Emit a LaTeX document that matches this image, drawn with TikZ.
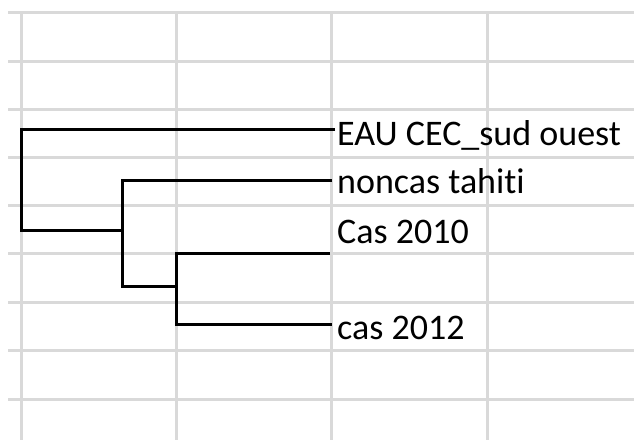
\documentclass[tikz,border=0pt]{standalone}
\usepackage{fontspec}
\setmainfont{Carlito}[Ligatures=NoCommon]
\definecolor{cellgray}{HTML}{D9D9D9}

\begin{document}
\begin{tikzpicture}[x=1pt,y=-1pt,
		gridline/.style={draw=cellgray,line width=3pt},
		branch/.style={draw=black,line width=3pt},
		leaf/.style={anchor=base west,inner sep=0pt,font=\fontsize{36}{42}\selectfont}]
		\useasboundingbox (0,0) rectangle (634,440);
		\fill[white] (0,0) rectangle (634,440);
		% sheet cells
		\foreach \y in {12,61,109,157,205,253,302,350,399} {
			\draw[gridline] (8,\y) -- (634,\y);
		}
		\foreach \x in {21,176,331,487} {
			\draw[gridline] (\x,12) -- (\x,440);
		}
		% labels
		\node[leaf] (eau) at (337,145) {EAU CEC\_sud ouest};
		\node[leaf] (noncas) at (337,193) {noncas tahiti};
		\node[leaf] (cas10) at (337,243) {Cas 2010};
		\node[leaf] (cas12) at (337,339) {cas 2012};
		% tree
		\coordinate (t1) at (335,129);
		\coordinate (t2) at (332,180);
		\coordinate (t3) at (330,253);
		\coordinate (t4) at (332,324);
		\coordinate (root) at (21,230);
		\coordinate (mid) at (122,286);
		\coordinate (low) at (176,324);
		\draw[branch] (t1) -| (root) -- (mid |- root);
		\draw[branch] (t2) -| (mid) -- (low |- mid);
		\draw[branch] (t3) -| (low) -- (t4);
	\end{tikzpicture}
\end{document}
